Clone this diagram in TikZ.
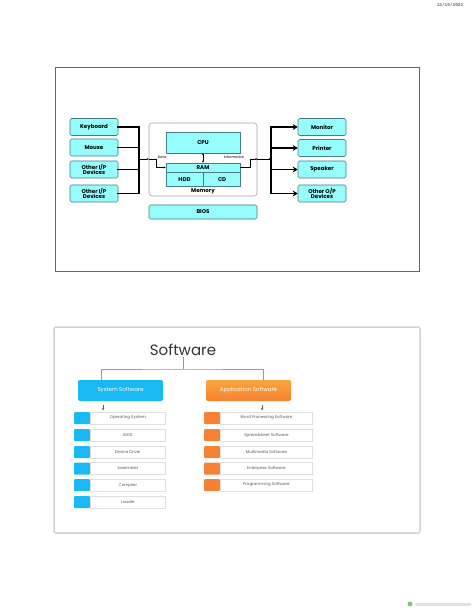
\documentclass[tikz,border=0pt]{standalone}
\usepackage{fontspec}
\setmainfont{Poppins}
\newfontfamily\datefont{Liberation Mono}
\usetikzlibrary {arrows.meta,
                 positioning}
\definecolor{boxcyan}{RGB}{150,252,252}
\definecolor{boxedge}{RGB}{70,125,130}
\definecolor{sysblue}{RGB}{25,185,245}
\definecolor{apporange}{RGB}{245,130,50}
\definecolor{appyellow}{RGB}{250,165,60}
\tikzset{
        unit/.style={draw=boxedge, fill=boxcyan, line width=0.6pt, inner sep=0pt,
                     align=center, font=\fontsize{5.5}{5.5}\selectfont\bfseries},
        dev/.style={unit, rounded corners=1.5pt, minimum width=48pt,
                    minimum height=17pt},
        slide/.style={draw=gray!80!black, line width=0.8pt, inner sep=0pt},
        bus/.style={line width=1.8pt, line cap=rect},
        busarrow/.style={bus, -{Stealth[length=5pt, width=6pt]}},
        flowline/.style={line width=0.4pt, -{Stealth[length=2pt, width=2pt]}},
        tag/.style={inner sep=0pt, font=\fontsize{3.5}{3.5}\selectfont},
        treeline/.style={draw=gray!80, line width=0.8pt},
        chip/.style={minimum width=16pt, minimum height=12pt, inner sep=0pt,
                     rounded corners=1pt},
        item/.style={draw=gray!25, fill=white, minimum height=12pt, inner sep=0pt,
                     font=\fontsize{4}{4}\selectfont, text=gray!70!black},
 }

\begin{document}
\begin{tikzpicture}[x=1pt, y=-1pt]
    \useasboundingbox (0,0) rectangle (474,612);

    \node[font=\datefont\bfseries\fontsize{4.4}{4.4}\selectfont, text=gray!80!black] (date) at (450,5) {12/10/2022};

    % first slide
    \node[slide, minimum width=364pt, minimum height=204pt] (slideA) at (237,169) {};

    \node[dev] (kbd) at (94,127) {Keyboard};
    \node[dev] (mouse) at (94,147.5) {Mouse};
    \node[dev] (inA) at (94,169.5) {Other I/P\\Devices};
    \node[dev] (inB) at (94,193.5) {Other I/P\\Devices};

    \coordinate (inbus) at (139,159);
    \draw[bus] (kbd.east) -| (inbus |- inB.east) -- (inB.east);
    \draw[bus] (mouse.east) -- (mouse.east -| inbus);
    \draw[bus] (inA.east) -- (inA.east -| inbus);

    \node[draw=gray!70, fill=white, rounded corners=3pt, line width=0.6pt,
          minimum width=108pt, minimum height=73pt] (mem) at (203,159.5) {};
    \node[unit, minimum width=74pt, minimum height=21pt] (cpu) at (203,142.5) {CPU};
    \node[unit, minimum width=74pt, minimum height=9pt] (ram) at (203,167.5) {RAM};
    \node[unit, minimum width=37pt, minimum height=14pt, anchor=north west] (hdd) at (ram.south west) {HDD};
    \node[unit, minimum width=37pt, minimum height=14pt, right=0pt of hdd] (cd) {CD};
    \node[font=\fontsize{5.5}{5.5}\selectfont\bfseries, inner sep=0pt] (memlbl) at (203,191) {Memory};

    \draw[flowline] (inbus) -- (inbus -| mem.west);
    \draw[flowline] (inbus -| mem.west) -- ++(7,0) |- (ram.west);
    \node[tag] (datalbl) at (162,157.5) {Data};

    \draw[{Stealth[length=2pt, width=2pt]}-{Stealth[length=2pt, width=2pt]}, line width=0.4pt] (cpu.south) -- (ram.north);

    \coordinate (outbus) at (271,159);
    \draw[flowline] (ram.east) -- ++(10,0) |- (outbus -| mem.east);
    \draw[flowline] (outbus -| mem.east) -- (outbus);
    \node[tag] (infolbl) at (234,157.5) {Information};

    \node[unit, rounded corners=1.5pt, minimum width=108pt, minimum height=14pt] (bios) at (203,212) {BIOS};

    \node[dev] (monitor) at (322,127) {Monitor};
    \node[dev] (printer) at (322,148) {Printer};
    \node[dev] (speaker) at (322,169.5) {Speaker};
    \node[dev] (outA) at (322,193.5) {Other O/P\\Devices};

    \draw[bus] (outbus |- monitor.west) -- (outbus |- outA.west);
    \draw[busarrow] (outbus |- monitor.west) -- (monitor.west);
    \draw[busarrow] (outbus |- printer.west) -- (printer.west);
    \draw[busarrow] (outbus |- speaker.west) -- (speaker.west);
    \draw[busarrow] (outbus |- outA.west) -- (outA.west);

    % second slide
    \node[slide, draw=gray!35, line width=1.5pt, rounded corners=2pt,
          minimum width=366pt, minimum height=206pt] (slideB) at (237,430) {};

    \node[font=\fontsize{15}{15}\selectfont, text=black!80, inner sep=1pt] (soft) at (183,350) {Software};
    \coordinate (fork) at (183,369);
    \draw[treeline] (soft.south) -- (fork);

    \node[fill=sysblue, rounded corners=2pt, minimum width=85pt, minimum height=21pt,
          text=white, font=\fontsize{5.5}{5.5}\selectfont] (sys) at (120.5,390.5) {System Software};
    \node[top color=appyellow, bottom color=apporange, rounded corners=2pt,
          minimum width=85pt, minimum height=21pt, text=white,
          font=\fontsize{5.5}{5.5}\selectfont] (app) at (248.5,390.5) {Application Software};

    \draw[treeline] ([xshift=-19.5pt]sys.north) |- (fork) -| ([xshift=14.5pt]app.north);
    \draw[line width=0.5pt, gray!70!black, -{Stealth[length=2pt, width=2.5pt]}] ([shift={(-17.5,4)}]sys.south) -- ++(0,5);
    \draw[line width=0.5pt, gray!70!black, -{Stealth[length=2pt, width=2.5pt]}] ([shift={(13.5,4)}]app.south) -- ++(0,5);

    \node[chip, fill=sysblue] (s1) at (82,418) {};
    \node[item, minimum width=75pt, right=0pt of s1] (sysA) {Operating System};
    \node[chip, fill=sysblue] (s2) at (82,435) {};
    \node[item, minimum width=75pt, right=0pt of s2] (sysB) {BIOS};
    \node[chip, fill=sysblue] (s3) at (82,452) {};
    \node[item, minimum width=75pt, right=0pt of s3] (sysC) {Device Driver};
    \node[chip, fill=sysblue] (s4) at (82,468.5) {};
    \node[item, minimum width=75pt, right=0pt of s4] (sysD) {Assembler};
    \node[chip, fill=sysblue] (s5) at (82,485) {};
    \node[item, minimum width=75pt, right=0pt of s5] (sysE) {Compiler};
    \node[chip, fill=sysblue] (s6) at (82,502) {};
    \node[item, minimum width=75pt, right=0pt of s6] (sysF) {Loader};

    \node[chip, fill=apporange] (a1) at (212,418) {};
    \node[item, minimum width=92pt, right=0pt of a1] (appA) {Word Processing Software};
    \node[chip, fill=apporange] (a2) at (212,435) {};
    \node[item, minimum width=92pt, right=0pt of a2] (appB) {Spreadsheet Software};
    \node[chip, fill=apporange] (a3) at (212,452) {};
    \node[item, minimum width=92pt, right=0pt of a3] (appC) {Multimedia Software};
    \node[chip, fill=apporange] (a4) at (212,468.5) {};
    \node[item, minimum width=92pt, right=0pt of a4] (appD) {Enterprise Software};
    \node[chip, fill=apporange] (a5) at (212,485) {};
    \node[item, minimum width=92pt, right=0pt of a5] (appE) {Programming Software};

    % footer mark
    \fill[green!55!black, opacity=0.5] (410,604) circle (2.5pt);
    \draw[gray!25, line width=3pt, line cap=round] (416,604) -- (470,604);
\end{tikzpicture}
\end{document}
